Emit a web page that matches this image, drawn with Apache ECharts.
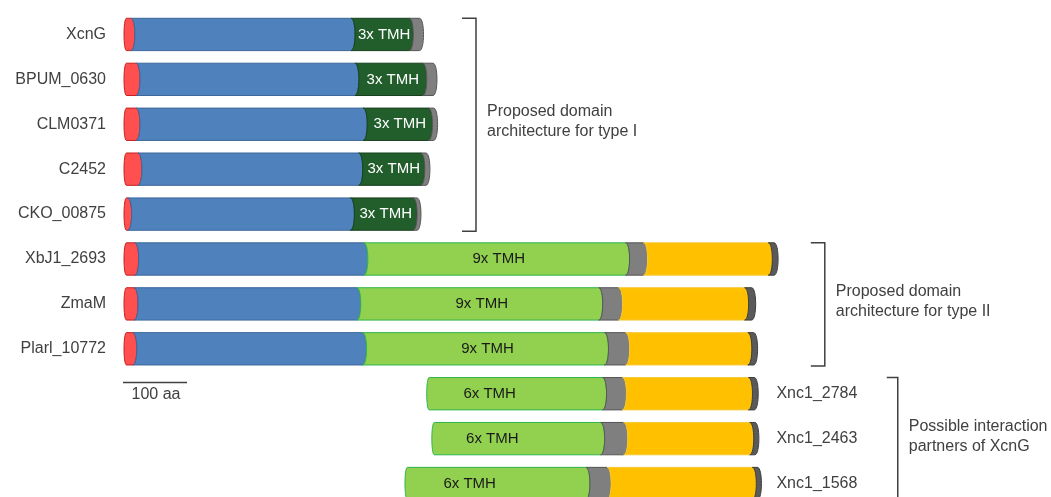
<!DOCTYPE html>
<html>
<head>
<meta charset="utf-8">
<title>Domain architecture</title>
<script src="https://cdn.jsdelivr.net/npm/echarts@6/dist/echarts.min.js"></script>
<style>
  html, body { margin: 0; padding: 0; background: #fff; }
  #chart { width: 1051px; height: 497px; }
</style>
</head>
<body>
<div id="chart"></div>
<script>
// Proteins, top to bottom
const proteins = ['XcnG', 'BPUM_0630', 'CLM0371', 'C2452', 'CKO_00875',
  'XbJ1_2693', 'ZmaM', 'Plarl_10772', 'Xnc1_2784', 'Xnc1_2463', 'Xnc1_1568'];

// Domain lengths in amino acids (aa), N- to C-terminus
const startAa   = [0, 0, 0, 0, 0, 0, 0, 0, 473, 481, 439];
const signalAa  = [17, 25, 25, 28, 12, 23, 22, 20, 0, 0, 0];
const periAa    = [344, 342, 355, 345, 348, 358, 348, 359, 0, 0, 0];
const tmhAa     = [91, 106, 102, 97, 98, 409, 378, 378, 281, 270, 289];
const linkerAa  = [16, 16, 8, 8, 6, 28, 31, 33, 31, 36, 33];
const cytoAa    = [0, 0, 0, 0, 0, 195, 197, 191, 197, 197, 227];
const capAa     = [0, 0, 0, 0, 0, 9, 11, 9, 9, 8, 8];
const tmhLabels = ['3x TMH', '3x TMH', '3x TMH', '3x TMH', '3x TMH',
  '9x TMH', '9x TMH', '9x TMH', '6x TMH', '6x TMH', '6x TMH'];

// Proteins labelled on the left; the rest are labelled to the right of their C-terminus
const leftLabelled = 8;

// Brackets grouping the proteins
const bracketRows  = [[0, 4], [5, 7], [8, 10]];
const bracketAtAa  = [550, 1095, 1209];
const bracketTexts = ['Proposed domain\narchitecture for type I',
  'Proposed domain\narchitecture for type II',
  'Possible interaction\npartners of XcnG'];

// Scale bar
const scaleBarAa = 100;
const scaleBarLabel = '100 aa';

const FONT = '"Liberation Sans", Arial, sans-serif';
const TEXT = '#404040';
const BAR_FRAC = 0.72;

const palette = {
  signal:   { fill: '#FF4F4F', stroke: '#C81E1E' },
  peri:     { fill: '#4F81BD', stroke: '#3D679A' },
  tmhDark:  { fill: '#215E2B', stroke: '#163F1D' },
  tmhLight: { fill: '#92D050', stroke: '#2DB54A' },
  linker:   { fill: '#7F7F7F', stroke: '#555555' },
  cyto:     { fill: '#FFC000', stroke: '#F5C93A' },
  cap:      { fill: '#5A5A5A', stroke: '#3C3C3C' }
};

// Segment of a cylinder seen from the side: the C-terminal side is a half ellipse
// bulging right; the N-terminal side is either the matching concave edge or,
// for the first segment, a flatter rounded end.
function segPath(x1, x2, yT, yB, first) {
  const rx = 4, k = rx * 4 / 3;
  const r = x2 - rx;
  let d = '';
  if (first) {
    const rl = 2.5, kl = rl * 4 / 3;
    const l = x1 + rl;
    d += 'M' + l + ' ' + yT + 'L' + r + ' ' + yT;
    d += 'C' + (r + k) + ' ' + yT + ' ' + (r + k) + ' ' + yB + ' ' + r + ' ' + yB;
    d += 'L' + l + ' ' + yB;
    d += 'C' + (l - kl) + ' ' + yB + ' ' + (l - kl) + ' ' + yT + ' ' + l + ' ' + yT + 'Z';
  } else {
    const l = x1 - rx;
    d += 'M' + l + ' ' + yT + 'L' + r + ' ' + yT;
    d += 'C' + (r + k) + ' ' + yT + ' ' + (r + k) + ' ' + yB + ' ' + r + ' ' + yB;
    d += 'L' + l + ' ' + yB;
    d += 'C' + (l + k) + ' ' + yB + ' ' + (l + k) + ' ' + yT + ' ' + l + ' ' + yT + 'Z';
  }
  return d;
}

function proteinEnd(i) {
  return startAa[i] + signalAa[i] + periAa[i] + tmhAa[i] + linkerAa[i] + cytoAa[i] + capAa[i];
}

// Right-hand labels share one column after the longest of those proteins
const rightLabelAa = Math.max.apply(null,
  proteins.map((p, i) => (i >= leftLabelled ? proteinEnd(i) : 0)));

function renderProtein(params, api) {
  const i = params.dataIndex;
  const row = i + 0.5;
  const yc = api.coord([0, row])[1];
  const h = api.size([0, 1])[1] * BAR_FRAC;
  const yT = yc - h / 2, yB = yc + h / 2;
  const lightTmh = cytoAa[i] > 0;
  const segs = [
    [signalAa[i], 'signal'],
    [periAa[i], 'peri'],
    [tmhAa[i], lightTmh ? 'tmhLight' : 'tmhDark'],
    [linkerAa[i], 'linker'],
    [cytoAa[i], 'cyto'],
    [capAa[i], 'cap']
  ].filter(s => s[0] > 0);

  const children = [];
  let pos = startAa[i];
  let tmhX1 = 0, tmhX2 = 0;
  segs.forEach((s, k) => {
    const x1 = api.coord([pos, row])[0];
    pos += s[0];
    const x2 = api.coord([pos, row])[0];
    const c = palette[s[1]];
    children.push({
      type: 'path',
      shape: { pathData: segPath(x1, x2, yT, yB, k === 0) },
      style: { fill: c.fill, stroke: c.stroke, lineWidth: 1 }
    });
    if (s[1] === 'tmhLight' || s[1] === 'tmhDark') { tmhX1 = x1; tmhX2 = x2; }
  });

  // TMH label: centred, or nearer the start when the TMH domain opens the protein
  const frac = periAa[i] > 0 ? 0.5 : 0.35;
  children.push({
    type: 'text',
    style: {
      text: tmhLabels[i],
      x: tmhX1 + (tmhX2 - tmhX1) * frac,
      y: yc,
      align: 'center',
      verticalAlign: 'middle',
      fill: lightTmh ? '#1A1A1A' : '#FFFFFF',
      font: '15px ' + FONT
    }
  });

  const onLeft = i < leftLabelled;
  const xLabel = onLeft ? api.coord([0, row])[0] - 18 : api.coord([rightLabelAa, row])[0] + 15;
  children.push({
    type: 'text',
    style: {
      text: proteins[i],
      x: xLabel,
      y: yc,
      align: onLeft ? 'right' : 'left',
      verticalAlign: 'middle',
      fill: TEXT,
      font: '16px ' + FONT
    }
  });
  return { type: 'group', children: children };
}

function renderBracket(params, api) {
  const j = params.dataIndex;
  const rows = bracketRows[j];
  const half = api.size([0, 1])[1] * BAR_FRAC / 2;
  const x = api.coord([bracketAtAa[j], rows[0] + 0.5])[0];
  const y1 = api.coord([0, rows[0] + 0.5])[1] - half;
  const y2 = api.coord([0, rows[1] + 0.5])[1] + half + 1;
  const arm = j === 2 ? 11 : 14;
  return {
    type: 'group',
    children: [
      {
        type: 'polyline',
        shape: { points: [[x - arm, y1], [x, y1], [x, y2], [x - arm, y2]] },
        style: { stroke: TEXT, lineWidth: 1.5, fill: null }
      },
      {
        type: 'text',
        style: {
          text: bracketTexts[j],
          x: x + 11,
          y: (y1 + y2) / 2 - 3,
          align: 'left',
          verticalAlign: 'middle',
          fill: TEXT,
          font: '16px ' + FONT,
          lineHeight: 20
        }
      }
    ]
  };
}

function renderScale(params, api) {
  const row = leftLabelled + 0.5;
  const yc = api.coord([0, row])[1];
  const half = api.size([0, 1])[1] * BAR_FRAC / 2;
  const x1 = api.coord([0, row])[0];
  const x2 = api.coord([scaleBarAa, row])[0];
  const y = yc - half + 5;
  return {
    type: 'group',
    children: [
      { type: 'line', shape: { x1: x1 - 1, y1: y, x2: x2 - 1, y2: y },
        style: { stroke: TEXT, lineWidth: 1.5 } },
      { type: 'text', style: { text: scaleBarLabel, x: (x1 + x2) / 2, y: y + 4,
        align: 'center', verticalAlign: 'top', fill: TEXT, font: '16px ' + FONT } }
    ]
  };
}

const chart = echarts.init(document.getElementById('chart'), null, { renderer: 'canvas' });
chart.setOption({
  animation: false,
  grid: { left: 124, top: 12, width: 832, bottom: 0 },
  xAxis: { type: 'value', min: 0, max: 1300, show: false },
  // one unit per protein row; 10.8 rows fit above the bottom edge, so the last row is cut
  yAxis: { type: 'value', inverse: true, min: 0, max: 10.8, show: false },
  series: [
    {
      type: 'custom',
      name: 'domains',
      clip: false,
      renderItem: renderProtein,
      data: proteins.map((p, i) => [startAa[i], i + 0.5])
    },
    {
      type: 'custom',
      name: 'brackets',
      clip: false,
      renderItem: renderBracket,
      data: bracketRows.map((r, j) => [bracketAtAa[j], r[0] + 0.5])
    },
    {
      type: 'custom',
      name: 'scale',
      clip: false,
      renderItem: renderScale,
      data: [[scaleBarAa, leftLabelled + 0.5]]
    }
  ]
});
</script>
</body>
</html>
